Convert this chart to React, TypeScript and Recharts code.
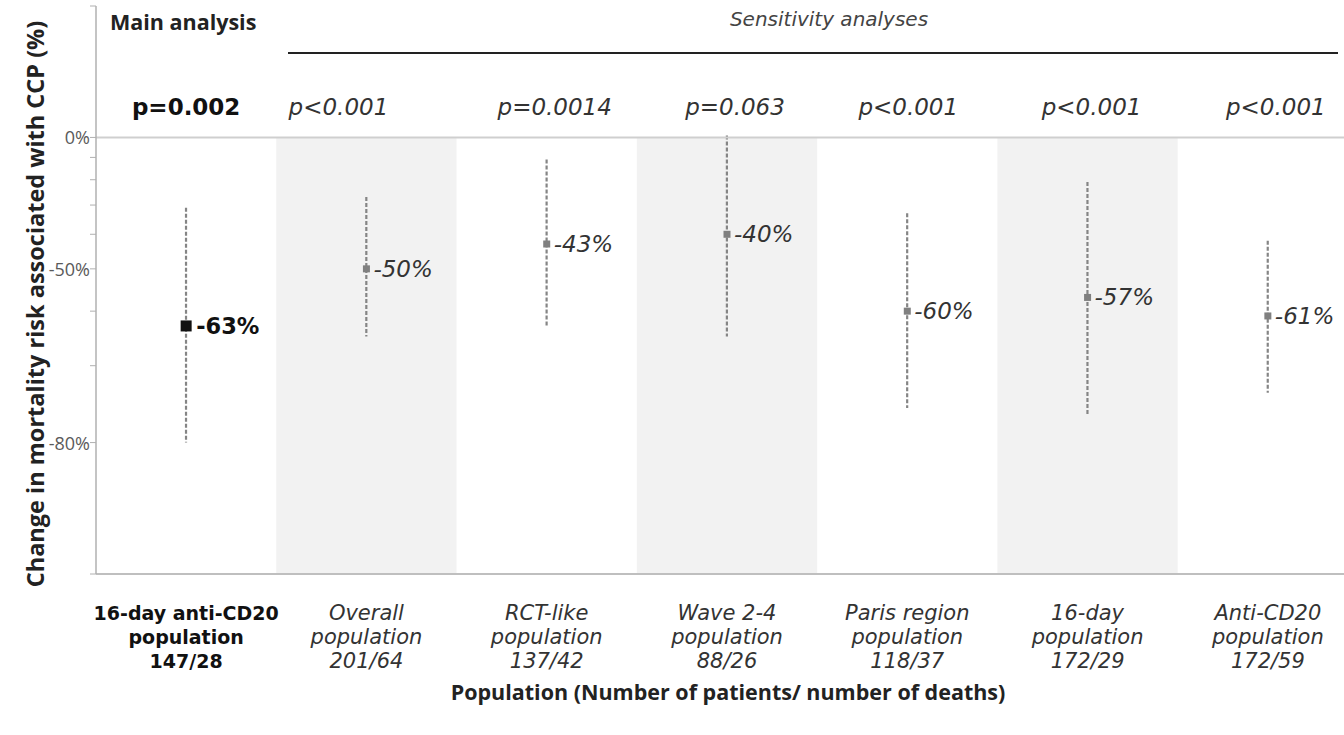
import { ComposedChart, Bar, Line, XAxis, YAxis, ReferenceArea, ReferenceLine } from 'recharts';

// populations (first line of each x label) and patients/deaths
const CATEGORIES = ['16-day anti-CD20', 'Overall', 'RCT-like', 'Wave 2-4', 'Paris region', '16-day', 'Anti-CD20'];
const COUNTS = ['147/28', '201/64', '137/42', '88/26', '118/37', '172/29', '172/59'];
const P_VALUES = ['p=0.002', 'p<0.001', 'p=0.0014', 'p=0.063', 'p<0.001', 'p<0.001', 'p<0.001'];

// change in mortality risk, %
const ESTIMATE = [-63, -50, -43, -40, -60, -57, -61];
const CI_LOW = [-80, -65, -63, -65, -76, -77, -74];
const CI_HIGH = [-31, -27, -11, 1, -33, -21, -42];

// y axis is a log scale of the risk ratio
const RR_TICKS = [0.1, 0.2, 0.3, 0.4, 0.5, 0.6, 0.7, 0.8, 0.9, 1, 2];
const LABELED_TICKS = [1, 0.5, 0.2];

// small horizontal nudges of the p-value texts, as in the original figure
const P_LABEL_DX = [0, -28, 8, 8, 1, 4, 8];

const toRR = (pct: number) => 1 + pct / 100;

const data = CATEGORIES.map((name, i) => ({
  name,
  count: COUNTS[i],
  p: P_VALUES[i],
  pct: ESTIMATE[i],
  est: toRR(ESTIMATE[i]),
  ci: [toRR(CI_LOW[i]), toRR(CI_HIGH[i])],
  main: i === 0,
}));

const LABEL_FONT = 'DejaVu Sans, sans-serif';
const TITLE_FONT = '"Open Sans", sans-serif';

function CiLine(props: any) {
  const { x, y, width, height } = props;
  const cx = x + width / 2;
  return (
    <line x1={cx} x2={cx} y1={y} y2={y + height} stroke="#858585" strokeWidth={2.2} strokeDasharray="4 2" />
  );
}

function PointMark(props: any) {
  const { cx, cy, payload, index } = props;
  const main = payload.main;
  const s = main ? 11 : 7;
  return (
    <g key={`pt-${index}`}>
      <rect x={cx - s / 2} y={cy - s / 2} width={s} height={s} fill={main ? '#111' : '#808080'} />
      <text
        x={cx + (main ? 10 : 7)}
        y={cy}
        dominantBaseline="central"
        fontFamily={LABEL_FONT}
        fontSize={main ? 22.5 : 23}
        fontWeight={main ? 700 : 400}
        fontStyle={main ? 'normal' : 'italic'}
        fill={main ? '#111' : '#333'}
      >
        {payload.pct}%
      </text>
      <text
        x={cx + P_LABEL_DX[index]}
        y={115}
        textAnchor="middle"
        fontFamily={LABEL_FONT}
        fontSize={23}
        fontWeight={main ? 700 : 400}
        fontStyle={main ? 'normal' : 'italic'}
        fill={main ? '#111' : '#333'}
      >
        {payload.p}
      </text>
    </g>
  );
}

function CategoryTick(props: any) {
  const { x, y, payload, index } = props;
  const main = index === 0;
  const lines = [payload.value, 'population', COUNTS[index]];
  return (
    <text
      x={x}
      y={y + 38}
      textAnchor="middle"
      fontFamily={LABEL_FONT}
      fontSize={main ? 19 : 21}
      fontWeight={main ? 700 : 400}
      fontStyle={main ? 'normal' : 'italic'}
      fill={main ? '#111' : '#333'}
    >
      {lines.map((l, i) => (
        <tspan key={i} x={x} dy={i === 0 ? 0 : 24}>
          {l}
        </tspan>
      ))}
    </text>
  );
}

const yTickLabel = (v: number) =>
  LABELED_TICKS.some((t) => Math.abs(t - v) < 1e-6) ? `${Math.round((v - 1) * 100)}%` : '';

function RiskTick(props: any) {
  const { x, y, payload } = props;
  const label = yTickLabel(payload.value);
  if (!label) return null;
  return (
    <text x={x + 1} y={y} textAnchor="end" dominantBaseline="central" fontFamily={TITLE_FONT} fontSize={18} fill="#5a5a5a">
      {label}
    </text>
  );
}

export default function App() {
  return (
    <div
      style={{
        position: 'absolute',
        left: 0,
        top: 0,
        width: 1344,
        height: 735,
        overflow: 'hidden',
        background: '#fff',
      }}
    >
      <ComposedChart width={1360} height={735} data={data} margin={{ top: 6, right: 2, left: 0, bottom: 0 }}>
        {data
          .filter((_, i) => i % 2 === 1)
          .map((d) => (
            <ReferenceArea
              key={d.name}
              x1={d.name}
              x2={d.name}
              y1={0.1}
              y2={1}
              fill="#f2f2f2"
              fillOpacity={1}
              stroke="none"
            />
          ))}
        <ReferenceLine y={1} stroke="#cfcfcf" strokeWidth={2} />
        <XAxis
          dataKey="name"
          height={161}
          tickLine={false}
          axisLine={{ stroke: '#bfbfbf', strokeWidth: 2 }}
          tick={<CategoryTick />}
          interval={0}
        />
        <YAxis
          scale="log"
          domain={[0.1, 2]}
          allowDataOverflow
          ticks={RR_TICKS}
          interval={0}
          width={96}
          tickSize={6}
          tickMargin={1}
          tick={<RiskTick />}
          tickLine={{ stroke: '#b0b0b0' }}
          axisLine={{ stroke: '#b0b0b0', strokeWidth: 1.5 }}
        />
        <Bar dataKey="ci" shape={<CiLine />} isAnimationActive={false} />
        <Line
          dataKey="est"
          stroke="none"
          dot={(p: any) => <PointMark key={`pt-${p.index}`} {...p} />}
          activeDot={false}
          isAnimationActive={false}
        />
      </ComposedChart>

      <div
        style={{
          position: 'absolute',
          left: 110,
          top: 7,
          fontFamily: TITLE_FONT,
          fontWeight: 700,
          fontSize: 21.5,
          color: '#222',
        }}
      >
        Main analysis
      </div>
      <div
        style={{
          position: 'absolute',
          left: 629,
          width: 400,
          top: 7,
          textAlign: 'center',
          fontFamily: LABEL_FONT,
          fontStyle: 'italic',
          fontSize: 20,
          color: '#444',
        }}
      >
        Sensitivity analyses
      </div>
      <div style={{ position: 'absolute', left: 288, top: 52, width: 1050, height: 2, background: '#222' }} />
      <div
        style={{
          position: 'absolute',
          left: 35,
          top: 304,
          transform: 'translate(-50%, -50%) rotate(-90deg)',
          whiteSpace: 'nowrap',
          fontFamily: TITLE_FONT,
          fontWeight: 700,
          fontSize: 23.5,
          color: '#222',
        }}
      >
        Change in mortality risk associated with CCP (%)
      </div>
      <div
        style={{
          position: 'absolute',
          left: 428,
          width: 600,
          top: 677,
          textAlign: 'center',
          fontFamily: TITLE_FONT,
          fontWeight: 700,
          fontSize: 21.5,
          color: '#222',
        }}
      >
        Population (Number of patients/ number of deaths)
      </div>
    </div>
  );
}
